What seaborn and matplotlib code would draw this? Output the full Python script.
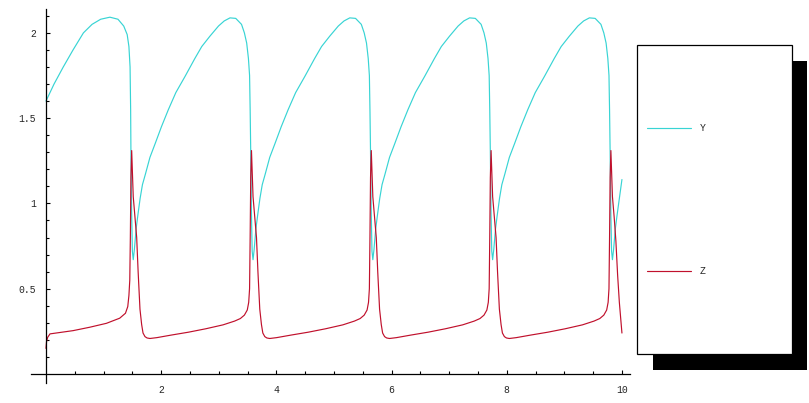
import numpy as np
import pandas as pd
import matplotlib
matplotlib.use("Agg")
import matplotlib.pyplot as plt
from matplotlib.patches import Rectangle
from matplotlib.lines import Line2D
from matplotlib.ticker import FixedLocator, FuncFormatter
import seaborn as sns

# ---- data ----
y_t = [0.00, 0.14, 0.30, 0.47, 0.65, 0.80, 0.95, 1.11, 1.25, 1.35, 1.41, 1.44, 1.46, 1.47, 1.475,
       1.487, 1.500, 1.515, 1.535, 1.565, 1.595, 1.635, 1.675, 1.725, 1.805, 1.895, 2.005, 2.125,
       2.255, 2.415, 2.585, 2.705, 2.845, 2.995, 3.095, 3.195, 3.295, 3.395, 3.445, 3.485, 3.515,
       3.535, 3.545, 3.555,
       3.567, 3.580, 3.595, 3.615, 3.645, 3.675, 3.715, 3.755, 3.805, 3.885, 3.975, 4.085, 4.205,
       4.335, 4.495, 4.665, 4.785, 4.925, 5.075, 5.175, 5.275, 5.375, 5.475, 5.525, 5.565, 5.595,
       5.615, 5.625, 5.635,
       5.647, 5.660, 5.675, 5.695, 5.725, 5.755, 5.795, 5.835, 5.885, 5.965, 6.055, 6.165, 6.285,
       6.415, 6.575, 6.745, 6.865, 7.005, 7.155, 7.255, 7.355, 7.455, 7.555, 7.605, 7.645, 7.675,
       7.695, 7.705, 7.715,
       7.727, 7.740, 7.755, 7.775, 7.805, 7.835, 7.875, 7.915, 7.965, 8.045, 8.135, 8.245, 8.365,
       8.495, 8.655, 8.825, 8.945, 9.085, 9.235, 9.335, 9.435, 9.535, 9.635, 9.685, 9.725, 9.755,
       9.775, 9.785, 9.795,
       9.807, 9.820, 9.835, 9.855, 9.885, 9.915, 9.955, 10.0]
y_v = [1.60, 1.70, 1.80, 1.90, 2.00, 2.05, 2.08, 2.092, 2.08, 2.04, 1.99, 1.92, 1.80, 1.55, 1.30,
       0.95, 0.72, 0.67, 0.73, 0.85, 0.93, 1.03, 1.11, 1.17, 1.27, 1.35, 1.45, 1.55,
       1.65, 1.745, 1.85, 1.92, 1.98, 2.04, 2.07, 2.088, 2.085, 2.05, 2.00, 1.94, 1.85,
       1.75, 1.55, 1.30,
       0.95, 0.72, 0.67, 0.73, 0.85, 0.93, 1.03, 1.11, 1.17, 1.27, 1.35, 1.45, 1.55,
       1.65, 1.745, 1.85, 1.92, 1.98, 2.04, 2.07, 2.088, 2.085, 2.05, 2.00, 1.94, 1.85,
       1.75, 1.55, 1.30,
       0.95, 0.72, 0.67, 0.73, 0.85, 0.93, 1.03, 1.11, 1.17, 1.27, 1.35, 1.45, 1.55,
       1.65, 1.745, 1.85, 1.92, 1.98, 2.04, 2.07, 2.088, 2.085, 2.05, 2.00, 1.94, 1.85,
       1.75, 1.55, 1.30,
       0.95, 0.72, 0.67, 0.73, 0.85, 0.93, 1.03, 1.11, 1.17, 1.27, 1.35, 1.45, 1.55,
       1.65, 1.745, 1.85, 1.92, 1.98, 2.04, 2.07, 2.088, 2.085, 2.05, 2.00, 1.94, 1.85,
       1.75, 1.55, 1.30,
       0.95, 0.72, 0.67, 0.73, 0.85, 0.93, 1.03, 1.14]

z_t = [0.00, 0.01, 0.03, 0.07, 0.47, 0.76, 1.05, 1.28, 1.38, 1.42, 1.44, 1.455, 1.465, 1.475, 1.488,
       1.515, 1.545, 1.575, 1.600, 1.632, 1.661, 1.685, 1.719, 1.755, 1.805, 1.925, 2.175, 2.475,
       2.775, 3.075, 3.275, 3.375, 3.445, 3.495, 3.520, 3.535, 3.545, 3.555, 3.568,
       3.595, 3.625, 3.655, 3.680, 3.712, 3.741, 3.765, 3.799, 3.835, 3.885, 4.005, 4.255, 4.555,
       4.855, 5.155, 5.355, 5.455, 5.525, 5.575, 5.600, 5.615, 5.625, 5.635, 5.648,
       5.675, 5.705, 5.735, 5.760, 5.792, 5.821, 5.845, 5.879, 5.915, 5.965, 6.085, 6.335, 6.635,
       6.935, 7.235, 7.435, 7.535, 7.605, 7.655, 7.680, 7.695, 7.705, 7.715, 7.728,
       7.755, 7.785, 7.815, 7.840, 7.872, 7.901, 7.925, 7.959, 7.995, 8.045, 8.165, 8.415, 8.715,
       9.015, 9.315, 9.515, 9.615, 9.685, 9.735, 9.760, 9.775, 9.785, 9.795, 9.808,
       9.835, 9.865, 9.895, 9.925, 9.955, 10.0]
z_v = [0.15, 0.19, 0.215, 0.235, 0.254, 0.274, 0.297, 0.327, 0.356, 0.395, 0.46, 0.55, 0.80, 1.15, 1.31,
       1.04, 0.92, 0.80, 0.60, 0.38, 0.29, 0.24, 0.219, 0.211, 0.208, 0.213, 0.228, 0.245,
       0.265, 0.288, 0.31, 0.325, 0.345, 0.375, 0.42, 0.50, 0.80, 1.15, 1.31,
       1.04, 0.92, 0.80, 0.60, 0.38, 0.29, 0.24, 0.219, 0.211, 0.208, 0.213, 0.228, 0.245,
       0.265, 0.288, 0.31, 0.325, 0.345, 0.375, 0.42, 0.50, 0.80, 1.15, 1.31,
       1.04, 0.92, 0.80, 0.60, 0.38, 0.29, 0.24, 0.219, 0.211, 0.208, 0.213, 0.228, 0.245,
       0.265, 0.288, 0.31, 0.325, 0.345, 0.375, 0.42, 0.50, 0.80, 1.15, 1.31,
       1.04, 0.92, 0.80, 0.60, 0.38, 0.29, 0.24, 0.219, 0.211, 0.208, 0.213, 0.228, 0.245,
       0.265, 0.288, 0.31, 0.325, 0.345, 0.375, 0.42, 0.50, 0.80, 1.15, 1.31,
       1.04, 0.92, 0.78, 0.58, 0.42, 0.24]

series_names = ["Y", "Z"]
series_colors = ["#38D4D4", "#C0102C"]
x_ticks = [2, 4, 6, 8, 10]
y_ticks = [0.5, 1.0, 1.5, 2.0]
x_minor = [0.5, 1, 1.5, 2.5, 3, 3.5, 4.5, 5, 5.5, 6.5, 7, 7.5, 8.5, 9, 9.5]
y_minor = [0.1, 0.2, 0.3, 0.4, 0.6, 0.7, 0.8, 0.9, 1.1, 1.2, 1.3, 1.4,
           1.6, 1.7, 1.8, 1.9, 2.1]

# ---- figure ----
sns.set_style("white")
plt.rcParams['font.family'] = ['Liberation Mono', 'DejaVu Sans Mono']

W, H = 809, 403
fig = plt.figure(figsize=(W / 100, H / 100), dpi=100)

# axes box in pixel coords: x from 31 to 630, y from 9 to 383
ax = fig.add_axes([31 / W, (H - 383) / H, (630 - 31) / W, (383 - 9) / H])
ax.set_xlim(-0.26, 10.14)
ax.set_ylim(-0.053, 2.14)

df = pd.concat([
    pd.DataFrame({"t": y_t, "v": y_v, "s": "Y"}),
    pd.DataFrame({"t": z_t, "v": z_v, "s": "Z"}),
])
sns.lineplot(data=df, x="t", y="v", hue="s", palette=dict(zip(series_names, series_colors)),
             estimator=None, sort=False, linewidth=0.85, legend=False, ax=ax)

ax.set_xlabel("")
ax.set_ylabel("")
for s in ["top", "right"]:
    ax.spines[s].set_visible(False)
ax.spines["left"].set_position(("data", 0))
ax.spines["bottom"].set_position(("data", 0))
for s in ["left", "bottom"]:
    ax.spines[s].set_linewidth(0.9)
    ax.spines[s].set_color("black")

ax.xaxis.set_major_locator(FixedLocator(x_ticks))
ax.yaxis.set_major_locator(FixedLocator(y_ticks))
ax.xaxis.set_minor_locator(FixedLocator(x_minor))
ax.yaxis.set_minor_locator(FixedLocator(y_minor))
ax.yaxis.set_major_formatter(FuncFormatter(lambda v, p: f"{v:g}"))
ax.xaxis.set_major_formatter(FuncFormatter(lambda v, p: f"{v:g}"))
ax.tick_params(which="both", direction="in", color="black", width=0.8,
               bottom=True, left=True, top=False, right=False)
ax.tick_params(which="major", length=3.2, labelsize=7)
ax.tick_params(which="minor", length=2.0)
ax.tick_params(axis="y", which="major", pad=7)
ax.tick_params(axis="x", which="major", pad=8)
ax.patch.set_alpha(0)

# ---- legend box with drop shadow (Mathematica style) ----
def px_rect(x0, y0, x1, y1, **kw):
    return Rectangle((x0 / W, 1 - y1 / H), (x1 - x0) / W, (y1 - y0) / H,
                     transform=fig.transFigure, **kw)

fig.patches.append(px_rect(653, 61, 807, 370, facecolor="black", edgecolor="none", zorder=1))
fig.patches.append(px_rect(637, 45, 792, 354, facecolor="white", edgecolor="black",
                           linewidth=0.9, zorder=2))
for name, col, yy in zip(series_names, series_colors, [128, 271]):
    fig.lines.append(Line2D([647 / W, 691 / W], [1 - yy / H, 1 - yy / H], color=col,
                            linewidth=0.85, transform=fig.transFigure, zorder=3))
    fig.text(700 / W, 1 - yy / H, name, fontsize=7, va="center", ha="left", zorder=4)

fig.savefig("out.png", dpi=100)
